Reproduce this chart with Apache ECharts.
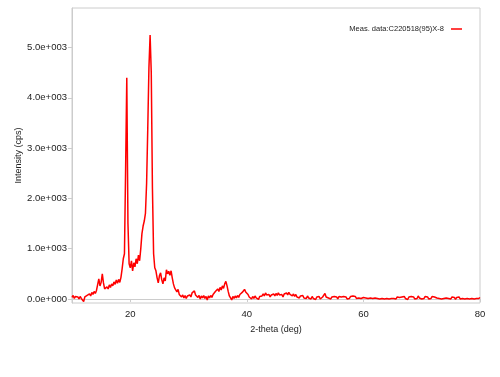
<!DOCTYPE html>
<html>
<head>
<meta charset="utf-8">
<script src="https://cdn.jsdelivr.net/npm/echarts@6/dist/echarts.min.js"></script>
<style>
  html, body { margin: 0; padding: 0; background: #fff; }
  #chart { width: 500px; height: 377px; }
</style>
</head>
<body>
<div id="chart"></div>
<script>
// scan: 10 to 80 deg, step 0.2 deg
const scanStart = 10;
const scanStep = 0.2;

// intensity (cps), one row per degree (5 points)
const intensity = [
  30, 70, 10, 50, 20,          // 10
  40, 0, 50, 10, 40,           // 11
  -50, 40, 10, 70, 40,         // 12
  100, 60, 130, 90, 150,       // 13
  110, 170, 140, 400, 260,     // 14
  330, 500, 320, 200, 170,     // 15
  240, 200, 280, 230, 300,     // 16
  260, 340, 290, 380, 310,     // 17
  390, 330, 430, 600, 800,     // 18
  900, 2600, 4400, 1500, 700,  // 19
  620, 760, 560, 720, 640,     // 20
  800, 700, 870, 760, 1000,    // 21
  1300, 1450, 1550, 1700, 2300,// 22
  3400, 4600, 5250, 4500, 2200,// 23
  900, 620, 560, 420, 320,     // 24
  460, 520, 380, 300, 420,     // 25
  360, 580, 500, 550, 470,     // 26
  560, 420, 300, 220, 250,     // 27
  140, 190, 90, 120, 40,       // 28
  80, 20, 70, 10, 60,          // 29
  30, 80, 40, 120, 90,         // 30
  160, 80, 110, 30, 70,        // 31
  0, 60, 20, 70, 10,           // 32
  50, -20, 60, 20, 70,         // 33
  30, 90, 60, 150, 120,        // 34
  200, 150, 230, 180, 260,     // 35
  210, 300, 350, 260, 150,     // 36
  60, 90, -20, 50, 10,         // 37
  60, 20, 70, 30, 90,          // 38
  60, 130, 110, 190, 140,      // 39
  160, 90, 40, 70, 0,          // 40
  50, 10, 60, 20, 40,          // 41
  -10, 50, 20, 60, 100,        // 42
  60, 120, 80, 50, 90,         // 43
  40, 80, 50, 100, 60,         // 44
  110, 70, 120, 80, 50,        // 45
  90, 40, 100, 70, 120,        // 46
  80, 130, 90, 110, 60,        // 47
  100, 50, 90, 40, 70,         // 48
  20, 60, 30, 70, 20,          // 49
  50, 10, 60, 20, 40,          // 50
  0, 50, 10, 40, -10,          // 51
  40, 10, 50, 0, 30,           // 52
  40, 20, 110, 40, 60,         // 53
  20, 50, 0, 40, 10,           // 54
  50, 20, 40, 0, 50,           // 55
  20, 40, 10, 50, 20,          // 56
  40, 0, 30, 10, 50,           // 57
  20, 60, 30, 50, 10,          // 58
  40, 20, 50, 10, 40,          // 59
  30, 60, 20, 50, 10,          // 60
  40, 20, 50, 10, 40,          // 61
  20, 50, 10, 40, 0,           // 62
  30, 10, 40, 0, 30,           // 63
  10, 40, 0, 30, 10,           // 64
  40, 10, 30, 0, 40,           // 65
  10, 30, 0, 40, 20,           // 66
  50, 10, 30, -10, 40,         // 67
  10, 50, 20, 40, 0,           // 68
  30, 10, 60, 20, 40,          // 69
  0, 30, 10, 50, 20,           // 70
  40, 0, 30, 10, 50,           // 71
  20, 40, 60, 20, 50,          // 72
  10, 40, 0, 30, 10,           // 73
  40, 20, 50, 10, 30,          // 74
  0, 40, 10, 30, -10,          // 75
  30, 10, 40, 0, 30,           // 76
  10, 40, 0, 30, 10,           // 77
  40, 0, 30, 10, 40,           // 78
  0, 30, 10, 40, 10,           // 79
  30                           // 80
];

const xTicks = [20, 40, 60, 80];
const yTicks = [0, 1000, 2000, 3000, 4000, 5000];
const seriesName = 'Meas. data:C220518(95)X-8';

const points = intensity.map((v, i) => [+(scanStart + i * scanStep).toFixed(1), v]);

const chart = echarts.init(document.getElementById('chart'));

const axisGrey = '#cccccc';
const textCol = '#222222';
const fontFamily = 'Liberation Sans, Arial, sans-serif';

chart.setOption({
  animation: false,
  grid: {
    left: 72, right: 20, top: 8, bottom: 74,
    show: true, borderColor: axisGrey, borderWidth: 1
  },
  legend: {
    right: 33, top: 20,
    align: 'right',
    icon: 'rect',
    itemWidth: 11, itemHeight: 1.5, itemGap: 5,
    textStyle: { fontSize: 7.5, color: textCol, fontFamily: fontFamily, padding: [0, 2, 0, 0] },
    data: [seriesName]
  },
  xAxis: {
    type: 'value',
    min: 10, max: 80,
    name: '2-theta (deg)',
    nameLocation: 'middle',
    nameGap: 22,
    nameMoveOverlap: false,
    nameTextStyle: { fontSize: 9, color: textCol, fontFamily: fontFamily },
    axisLine: { lineStyle: { color: axisGrey } },
    axisTick: { show: true, length: 3, customValues: xTicks, lineStyle: { color: axisGrey } },
    axisLabel: { customValues: xTicks, fontSize: 9.5, color: textCol, fontFamily: fontFamily, margin: 6 },
    splitLine: { show: false }
  },
  yAxis: {
    type: 'value',
    min: -80, max: 5785,
    name: 'Intensity (cps)',
    nameLocation: 'middle',
    nameGap: 49,
    nameMoveOverlap: false,
    nameRotate: 90,
    nameTextStyle: { fontSize: 9, color: textCol, fontFamily: fontFamily },
    axisLine: { show: true, lineStyle: { color: axisGrey } },
    axisTick: { show: true, length: 4, customValues: yTicks, lineStyle: { color: axisGrey } },
    axisLabel: {
      customValues: yTicks,
      fontSize: 9.5, color: textCol, fontFamily: fontFamily, margin: 5,
      formatter: v => v === 0 ? '0.0e+000' : (v / 1000).toFixed(1) + 'e+003'
    },
    splitLine: { show: false }
  },
  series: [{
    name: seriesName,
    type: 'line',
    data: points,
    symbol: 'none',
    sampling: null,
    lineStyle: { color: '#ff0000', width: 1.5 },
    itemStyle: { color: '#ff0000' }
  }]
});
</script>
</body>
</html>
